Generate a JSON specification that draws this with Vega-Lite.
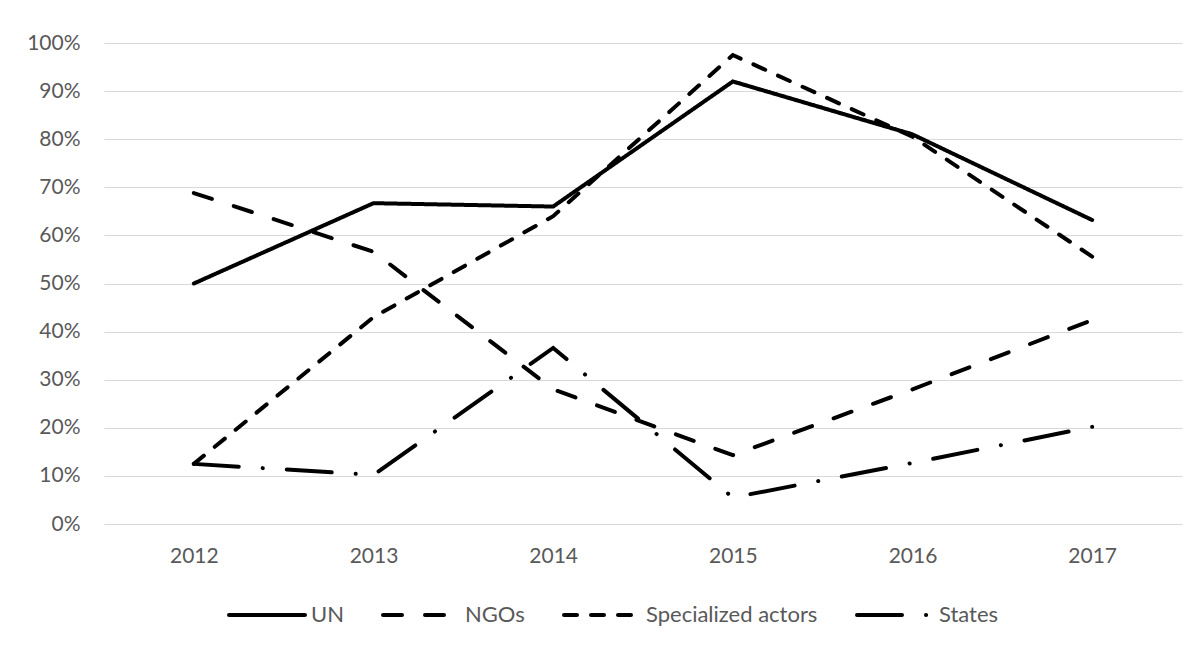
{
  "$schema": "https://vega.github.io/schema/vega-lite/v6.json",
  "autosize": {"type": "none"},
  "width": 1078,
  "height": 481,
  "padding": {"left": 104, "top": 43, "right": 21, "bottom": 121},
  "background": "white",
  "config": {
    "view": {"stroke": null},
    "font": "Lato",
    "axis": {"labelFont": "Lato", "labelFontSize": 21, "labelColor": "#595959", "domain": false, "ticks": false, "tickSize": 0, "gridColor": "#d9d9d9", "gridWidth": 1.2},
    "legend": {"labelFont": "Lato", "labelFontSize": 22, "labelColor": "#595959", "labelLimit": 400}
  },
  "data": {"values": [
    {"year": "2012", "actor": "UN", "value": 0.50},
    {"year": "2013", "actor": "UN", "value": 0.667},
    {"year": "2014", "actor": "UN", "value": 0.66},
    {"year": "2015", "actor": "UN", "value": 0.92},
    {"year": "2016", "actor": "UN", "value": 0.81},
    {"year": "2017", "actor": "UN", "value": 0.632},
    {"year": "2012", "actor": "NGOs", "value": 0.688},
    {"year": "2013", "actor": "NGOs", "value": 0.566},
    {"year": "2014", "actor": "NGOs", "value": 0.28},
    {"year": "2015", "actor": "NGOs", "value": 0.143},
    {"year": "2016", "actor": "NGOs", "value": 0.28},
    {"year": "2017", "actor": "NGOs", "value": 0.424},
    {"year": "2012", "actor": "Specialized actors", "value": 0.125},
    {"year": "2013", "actor": "Specialized actors", "value": 0.43},
    {"year": "2014", "actor": "Specialized actors", "value": 0.64},
    {"year": "2015", "actor": "Specialized actors", "value": 0.975},
    {"year": "2016", "actor": "Specialized actors", "value": 0.805},
    {"year": "2017", "actor": "Specialized actors", "value": 0.556},
    {"year": "2012", "actor": "States", "value": 0.125},
    {"year": "2013", "actor": "States", "value": 0.102},
    {"year": "2014", "actor": "States", "value": 0.366},
    {"year": "2015", "actor": "States", "value": 0.055},
    {"year": "2016", "actor": "States", "value": 0.127},
    {"year": "2017", "actor": "States", "value": 0.202}
  ]},
  "mark": {"type": "line", "color": "black", "strokeWidth": 4, "strokeCap": "round", "strokeJoin": "miter"},
  "encoding": {
    "x": {"field": "year", "type": "ordinal", "title": null, "axis": {"labelAngle": 0, "labelPadding": 21, "grid": false}},
    "y": {"field": "value", "type": "quantitative", "title": null, "scale": {"domain": [0, 1]}, "axis": {"format": ".0%", "values": [0, 0.1, 0.2, 0.3, 0.4, 0.5, 0.6, 0.7, 0.8, 0.9, 1], "labelPadding": 24, "grid": true}},
    "strokeDash": {
      "field": "actor", "type": "nominal", "title": null,
      "scale": {"domain": ["UN", "NGOs", "Specialized actors", "States"], "range": [[1, 0], [19, 23], [13, 14], [45, 24, 0.1, 24]]},
      "legend": {"orient": "none", "legendX": 123, "legendY": 532, "direction": "horizontal", "symbolType": "stroke", "symbolSize": 5776, "symbolStrokeWidth": 4, "symbolStrokeColor": "black", "labelOffset": 4, "columnPadding": 31,
        "encode": {"symbols": {"update": {"strokeCap": {"value": "round"}}}}}
    }
  }
}
